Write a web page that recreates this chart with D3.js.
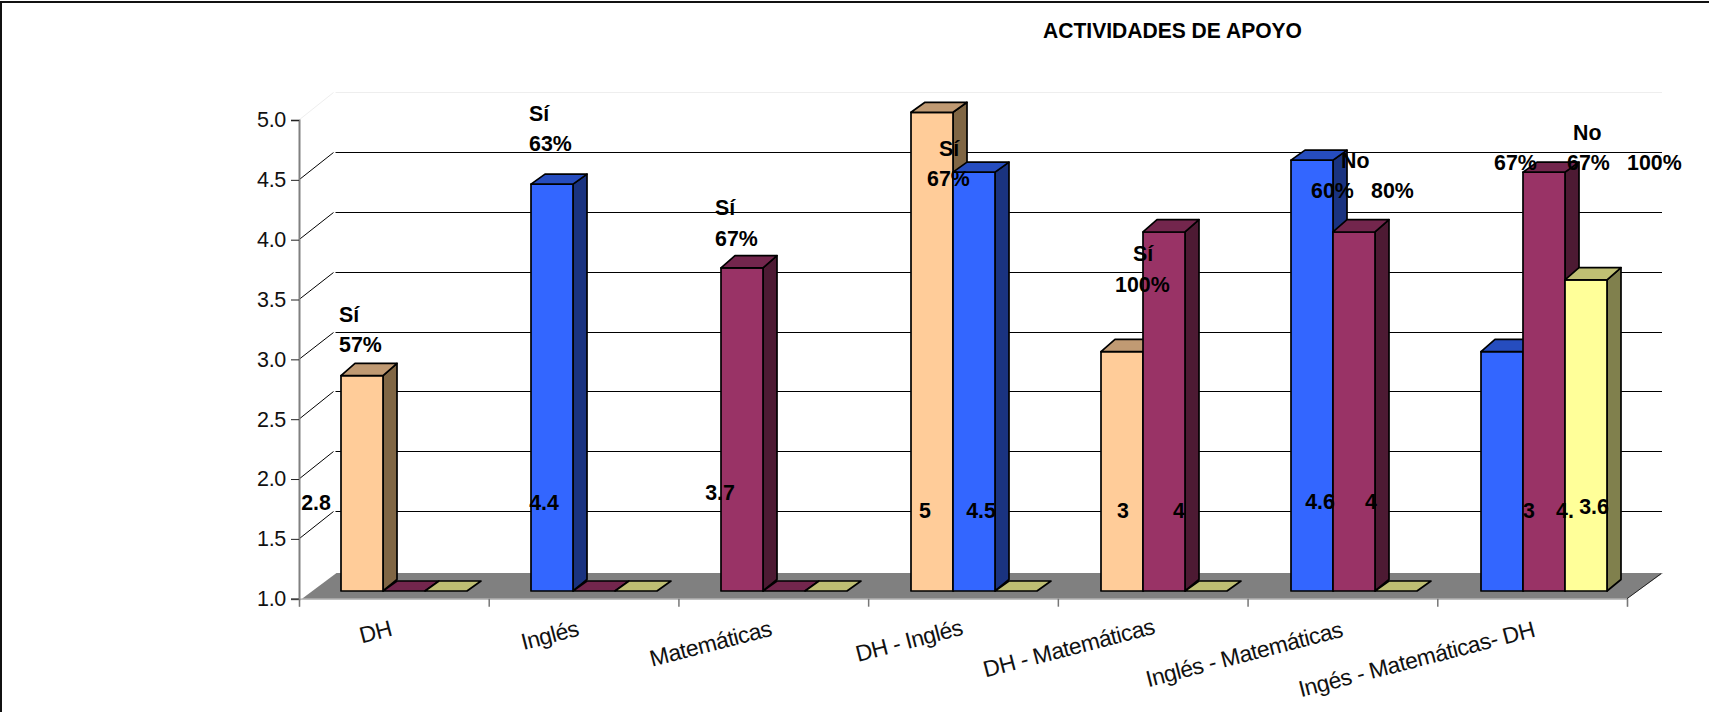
<!DOCTYPE html>
<html><head><meta charset="utf-8">
<script src="https://cdn.jsdelivr.net/npm/d3@7"></script>
<style>html,body{margin:0;padding:0;background:#fff;overflow:hidden}svg{display:block}text{font-family:"Liberation Sans",Arial,sans-serif}</style>
</head><body><svg id="c" width="1709" height="712"></svg>
<script>
const title = "ACTIVIDADES DE APOYO";
const categories = ["DH","Inglés","Matemáticas","DH - Inglés","DH - Matemáticas","Inglés - Matemáticas","Ingés - Matemáticas- DH"];
const yTicks = [1,1.5,2,2.5,3,3.5,4,4.5,5];
const serieA = [2.8,4.4,3.7,5,3,4.6,3];
const serieB = [0,0,0,4.5,4,4,4.5];
const serieC = [0,0,0,0,0,0,3.6];
const colorsA = ["peach","blue","purple","peach","peach","blue","blue"];
const colorsB = ["purple","purple","purple","blue","purple","purple","purple"];
const colorsC = ["yellow","yellow","yellow","yellow","yellow","yellow","yellow"];
const valueLabels = ["2.8","4.4","3.7","5","4.5","3","4","4.6","4","3","4.","3.6"];
const noteLabels = ["Sí","57%","Sí","63%","Sí","67%","Sí","67%","Sí","100%","No","60%","80%","67%","No","67%","100%"];

// layout only
const palette = {
  peach:{front:"#FFCC99",top:"#C09A73",side:"#806644"},
  blue:{front:"#3366FF",top:"#264DBF",side:"#1A3380"},
  purple:{front:"#993366",top:"#73264D",side:"#4D1A33"},
  yellow:{front:"#FFFF99",top:"#BFBF73",side:"#80804D"}
};
const valuePos = [[316,510],[544,510],[720,500],[925,518],[981,518],[1123,518],[1179,518],[1320,509],[1371,509],[1529,518],[1565,518],[1594,514]];
const notePos = [[339,322],[339,352],[529,121],[529,151],[715,215],[715,246],[939,155.5],[927,185.5],[1133,261],[1115,292],[1341,168],[1311,198],[1371,198],[1494,169.5],[1573,139.5],[1567,169.5],[1627,169.5]];
const catNudge = [[0,0],[-3,0],[0,0],[1,-1],[3,-2],[1,1],[3,1]];
const backDx=36.5, backDy=27.7, barDx=14, barInset=7.7, barOffset=42, barW=42;
const barDepth = v => (v>=4.4 || v<=1) ? 10 : 12.3;

const svg = d3.select("#c");
const x = d3.scaleBand().domain(categories).range([299,1629]);
const xEdge = d3.scaleLinear().domain([0,categories.length]).range([299,1627]);
const y = d3.scaleLinear().domain([1,5]).range([598.7,120]);
const P = a => "M"+a.map(p=>p.join(",")).join("L")+"Z";

// frame
svg.append("path").attr("d","M1,712V2H1709").attr("fill","none").attr("stroke","#111").attr("stroke-width",2);

// floor
svg.append("path").attr("d",P([[302,y(1)],[1627,y(1)],[1663,y(1)-25.7],[336.5,y(1)-25.7]])).attr("fill","#808080");

// gridlines
const grid = svg.append("g").attr("fill","none");
yTicks.filter(t=>t>1).forEach(t=>{
  const c = t===5 ? "#eeeeee" : "#000";
  const by = Math.round(y(t)-backDy)+0.5;
  grid.append("path").attr("d",`M299,${y(t)}L${299+backDx-2},${by}`).attr("stroke",c).attr("stroke-width",1);
  grid.append("path").attr("d",`M${299+backDx},${by}H1662`).attr("stroke",c).attr("stroke-width",1);
});

// axes
const ay = svg.append("g").attr("transform","translate(299,0)").call(d3.axisLeft(y).tickValues(yTicks).tickFormat(d3.format(".1f")).tickSize(8).tickPadding(5));
ay.selectAll("text").attr("font-size",21.5).attr("letter-spacing","-0.3px").attr("fill","#111").attr("font-family","Liberation Sans");
ay.selectAll("line").attr("stroke","#222");
ay.select(".domain").attr("stroke","#808080").attr("stroke-width",2);
const ax = svg.append("g").attr("transform",`translate(0,${y(1)})`).call(d3.axisBottom(xEdge).tickValues(d3.range(categories.length+1)).tickFormat("").tickSize(8));
ax.selectAll("line").attr("stroke","#777").attr("stroke-width",1.5);
ax.select(".domain").attr("stroke","#aaa").attr("stroke-width",1.2);
svg.append("path").attr("d",`M1627,${y(1)}L1661,${y(1)-25}`).attr("stroke","#222").attr("fill","none");

// bars
const strokeAttrs = s => s.attr("stroke","#000").attr("stroke-width",1.7).attr("stroke-linejoin","round");
[[serieA,colorsA],[serieB,colorsB],[serieC,colorsC]].forEach(([vals,cols],s)=>{
  vals.forEach((v,i)=>{
    const c = palette[cols[i]];
    const x0 = x(categories[i])+barOffset+s*barW, x1 = x0+barW;
    const b = y(1)-barInset, t = y(Math.max(v,1))-barInset, d = barDepth(v);
    if (v>1){
      strokeAttrs(svg.append("path").attr("d",P([[x1,t],[x1+barDx,t-d],[x1+barDx,b-11.5],[x1,b]])).attr("fill",c.side));
      strokeAttrs(svg.append("path").attr("d",P([[x0,t],[x1,t],[x1,b],[x0,b]])).attr("fill",c.front));
    }
    strokeAttrs(svg.append("path").attr("d",P([[x0,t],[x0+barDx,t-d],[x1+barDx,t-d],[x1,t]])).attr("fill",c.top));
  });
});

// category labels
categories.forEach((cat,i)=>{
  svg.append("text").attr("transform",`translate(${x(cat)+x.bandwidth()/2-1+catNudge[i][0]},${635.5+catNudge[i][1]}) rotate(-14.5)`)
    .attr("text-anchor","end").attr("font-size",23).attr("letter-spacing","-0.5px").attr("fill","#111").text(cat);
});

// value and note labels
const boldTxt = (t,px,py,anchor) => svg.append("text").attr("transform",`translate(${px},${py}) scale(0.95,1)`).attr("text-anchor",anchor)
  .attr("font-size",22.5).attr("font-weight","bold").attr("fill","#000").text(t);
valueLabels.forEach((t,i)=>boldTxt(t,valuePos[i][0],valuePos[i][1],"middle"));
noteLabels.forEach((t,i)=>boldTxt(t,notePos[i][0],notePos[i][1],"start"));

// title
svg.append("text").attr("x",1043).attr("y",37.5).attr("font-size",22).attr("font-weight","bold").attr("fill","#000")
  .attr("textLength",259).attr("lengthAdjust","spacingAndGlyphs").text(title);
</script></body></html>
